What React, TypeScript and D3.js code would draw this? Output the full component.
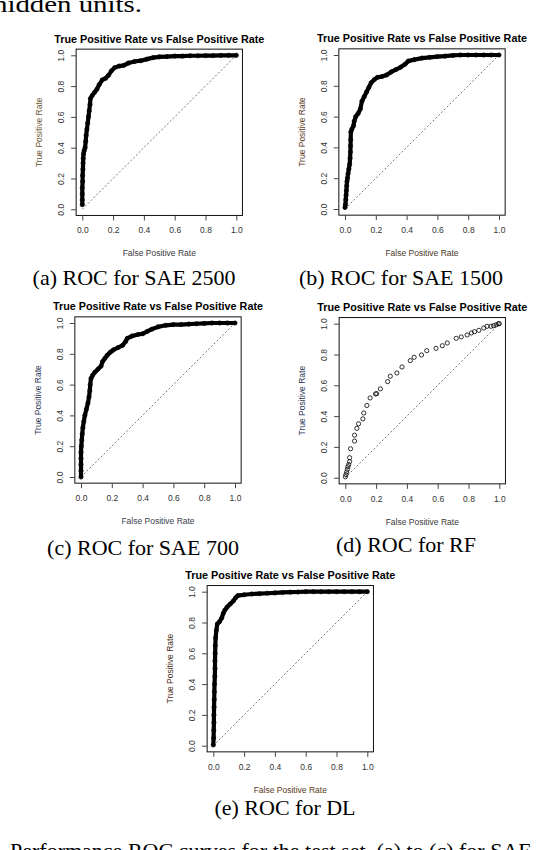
import * as d3 from "d3";
import React, { useEffect, useRef } from "react";

type Pt = [number, number];

// ROC points: [false positive rate, true positive rate]
const sae2500: Pt[] = [
  [0, 0.03], [0, 0.06], [0, 0.1], [0, 0.14], [0.002, 0.18], [0.002, 0.22],
  [0.004, 0.26], [0.005, 0.3], [0.006, 0.33], [0.008, 0.36], [0.012, 0.38],
  [0.018, 0.4], [0.022, 0.44], [0.025, 0.48], [0.03, 0.52], [0.035, 0.56],
  [0.04, 0.6], [0.045, 0.64], [0.05, 0.68], [0.053, 0.72], [0.065, 0.74],
  [0.08, 0.76], [0.095, 0.78], [0.11, 0.81], [0.13, 0.84], [0.15, 0.85],
  [0.17, 0.87], [0.19, 0.9], [0.21, 0.92], [0.24, 0.93], [0.27, 0.935],
  [0.3, 0.95], [0.34, 0.96], [0.38, 0.965], [0.42, 0.975], [0.46, 0.985],
  [0.5, 0.99], [0.55, 0.992], [0.6, 0.995], [0.65, 0.995], [0.7, 0.997],
  [0.75, 0.997], [0.8, 0.998], [0.85, 0.998], [0.9, 0.999], [0.95, 1], [1, 1],
];

const sae1500: Pt[] = [
  [0, 0.01], [0.003, 0.03], [0.005, 0.06], [0.007, 0.09], [0.009, 0.12],
  [0.011, 0.15], [0.013, 0.18], [0.016, 0.2], [0.02, 0.23], [0.025, 0.26],
  [0.03, 0.29], [0.033, 0.33], [0.035, 0.37], [0.036, 0.41], [0.037, 0.45],
  [0.038, 0.5], [0.045, 0.52], [0.055, 0.54], [0.06, 0.57], [0.07, 0.6],
  [0.085, 0.62], [0.1, 0.65], [0.11, 0.7], [0.125, 0.73], [0.14, 0.76],
  [0.155, 0.79], [0.17, 0.82], [0.19, 0.84], [0.21, 0.855], [0.24, 0.86],
  [0.27, 0.87], [0.3, 0.89], [0.33, 0.905], [0.36, 0.92], [0.39, 0.94],
  [0.41, 0.96], [0.45, 0.97], [0.5, 0.98], [0.55, 0.985], [0.6, 0.99],
  [0.65, 0.993], [0.7, 0.997], [0.75, 1], [0.8, 1], [0.85, 1], [0.9, 1],
  [0.95, 1], [1, 1],
];

const sae700: Pt[] = [
  [0, 0], [0, 0.04], [0, 0.08], [0, 0.12], [0, 0.16], [0.002, 0.2],
  [0.005, 0.24], [0.008, 0.28], [0.012, 0.32], [0.018, 0.36], [0.025, 0.4],
  [0.035, 0.44], [0.045, 0.48], [0.052, 0.52], [0.057, 0.56], [0.06, 0.6],
  [0.065, 0.64], [0.075, 0.66], [0.09, 0.68], [0.11, 0.7], [0.13, 0.72],
  [0.14, 0.75], [0.155, 0.77], [0.17, 0.79], [0.19, 0.81], [0.21, 0.825],
  [0.24, 0.84], [0.27, 0.855], [0.29, 0.88], [0.3, 0.9], [0.33, 0.915],
  [0.37, 0.925], [0.4, 0.93], [0.43, 0.945], [0.46, 0.96], [0.5, 0.975],
  [0.55, 0.985], [0.6, 0.99], [0.65, 0.99], [0.7, 0.993], [0.75, 0.995],
  [0.8, 0.997], [0.85, 1], [0.9, 1], [0.95, 1], [1, 1],
];

const rf: Pt[] = [
  [0, 0.006], [0.004, 0.02], [0.009, 0.037], [0.013, 0.054], [0.017, 0.071],
  [0.022, 0.086], [0.028, 0.104], [0.028, 0.13], [0.034, 0.188], [0.06, 0.238],
  [0.06, 0.276], [0.075, 0.32], [0.086, 0.35], [0.114, 0.382], [0.12, 0.42],
  [0.14, 0.469], [0.161, 0.518], [0.196, 0.544], [0.204, 0.546], [0.228, 0.577],
  [0.275, 0.624], [0.292, 0.659], [0.335, 0.68], [0.368, 0.719], [0.422, 0.76],
  [0.447, 0.782], [0.495, 0.797], [0.529, 0.825], [0.589, 0.84], [0.63, 0.857],
  [0.662, 0.875], [0.72, 0.905], [0.753, 0.914], [0.791, 0.927], [0.819, 0.94],
  [0.839, 0.948], [0.867, 0.957], [0.899, 0.972], [0.92, 0.983], [0.946, 0.983],
  [0.963, 0.987], [0.98, 0.993], [0.994, 1], [1, 1],
];

const dl: Pt[] = [
  [0, 0.005], [0.002, 0.05], [0.003, 0.1], [0.004, 0.15], [0.004, 0.2],
  [0.005, 0.25], [0.006, 0.3], [0.007, 0.35], [0.008, 0.4], [0.01, 0.45],
  [0.011, 0.5], [0.011, 0.55], [0.012, 0.6], [0.013, 0.65], [0.015, 0.7],
  [0.02, 0.75], [0.026, 0.79], [0.04, 0.805], [0.055, 0.83], [0.065, 0.86],
  [0.075, 0.88], [0.09, 0.9], [0.11, 0.92], [0.13, 0.94], [0.145, 0.96],
  [0.16, 0.975], [0.2, 0.98], [0.25, 0.985], [0.3, 0.987], [0.35, 0.99],
  [0.4, 0.992], [0.45, 0.995], [0.5, 0.997], [0.55, 0.998], [0.6, 1],
  [0.65, 1], [0.7, 1], [0.75, 1], [0.8, 1], [0.85, 1], [0.9, 1], [0.95, 1], [1, 1],
];

const tickValues = [0, 0.2, 0.4, 0.6, 0.8, 1.0];
const plotTitle = "True Positive Rate vs False Positive Rate";
const xLabel = "False Positive Rate";
const yLabel = "True Positive Rate";
const textAbove = "hidden units.";
const textBelow = "Performance ROC curves for the test set. (a) to (c) for SAE";

interface Panel {
  data: Pt[];
  caption: string;
  x0: number;
  y0: number;
  capX: number;
  capY: number;
  dense: boolean;
  yCol: string;
  xCol: string;
}

const panels: Panel[] = [
  { data: sae2500, caption: "(a) ROC for SAE 2500", x0: 82.3, y0: 209.3, capX: 134, capY: 285, dense: true, yCol: "#6b5a34", xCol: "#3a3a3a" },
  { data: sae1500, caption: "(b) ROC for SAE 1500", x0: 345, y0: 209, capX: 401, capY: 285, dense: true, yCol: "#5a3c22", xCol: "#4a3826" },
  { data: sae700, caption: "(c) ROC for SAE 700", x0: 81, y0: 477, capX: 143, capY: 555, dense: true, yCol: "#2e3a58", xCol: "#3a4050" },
  { data: rf, caption: "(d) ROC for RF", x0: 345.3, y0: 477.7, capX: 406, capY: 552, dense: false, yCol: "#2e3a58", xCol: "#3a3a3a" },
  { data: dl, caption: "(e) ROC for DL", x0: 213.3, y0: 745.7, capX: 285, capY: 815, dense: true, yCol: "#4a3020", xCol: "#5a3c22" },
];

const W = 548;
const H = 850;
const SIZE = 154;
const PAD = SIZE * 0.04;
const SANS = "'Liberation Sans', Arial, sans-serif";
const SERIF = "'Liberation Serif', 'Times New Roman', serif";

export default function App() {
  const ref = useRef<SVGSVGElement | null>(null);

  useEffect(() => {
    const svg = d3.select(ref.current);
    svg.selectAll("*").remove();

    svg.append("rect").attr("width", W).attr("height", H).attr("fill", "#fff");

    // running text of the page, cut by the crop at top and bottom
    svg.append("text")
      .attr("x", -7).attr("y", 12)
      .attr("textLength", 149).attr("lengthAdjust", "spacingAndGlyphs")
      .attr("font-family", SERIF).attr("font-size", 23)
      .text(textAbove);

    svg.append("text")
      .attr("x", 10).attr("y", 858)
      .attr("font-family", SERIF).attr("font-size", 22)
      .text(textBelow);

    panels.forEach((p) => {
      const x = d3.scaleLinear().domain([0, 1]).range([p.x0, p.x0 + SIZE]);
      const y = d3.scaleLinear().domain([0, 1]).range([p.y0, p.y0 - SIZE]);
      const left = p.x0 - PAD;
      const right = p.x0 + SIZE + PAD;
      const top = p.y0 - SIZE - PAD;
      const bottom = p.y0 + PAD;
      const g = svg.append("g");

      // diagonal reference
      g.append("line")
        .attr("x1", x(0)).attr("y1", y(0))
        .attr("x2", x(1)).attr("y2", y(1))
        .attr("stroke", "#555").attr("stroke-width", 0.8)
        .attr("stroke-dasharray", "2,2");

      if (p.dense) {
        const line = d3.line<Pt>().x((d) => x(d[0])).y((d) => y(d[1]));
        g.append("path")
          .datum(p.data)
          .attr("d", line)
          .attr("fill", "none")
          .attr("stroke", "#000")
          .attr("stroke-width", 4.2)
          .attr("stroke-linejoin", "round")
          .attr("stroke-linecap", "round");
      }

      g.selectAll("circle")
        .data(p.data)
        .enter()
        .append("circle")
        .attr("cx", (d) => x(d[0]))
        .attr("cy", (d) => y(d[1]))
        .attr("r", 2.1)
        .attr("fill", "none")
        .attr("stroke", "#000")
        .attr("stroke-width", 0.8);

      g.append("rect")
        .attr("x", left).attr("y", top)
        .attr("width", right - left).attr("height", bottom - top)
        .attr("fill", "none").attr("stroke", "#111").attr("stroke-width", 1);

      const fmt = d3.format(".1f");
      const xa = g.append("g")
        .attr("transform", `translate(0,${bottom})`)
        .call(d3.axisBottom(x).tickValues(tickValues).tickFormat(fmt).tickSize(5).tickSizeOuter(0).tickPadding(7));
      const ya = g.append("g")
        .attr("transform", `translate(${left},0)`)
        .call(d3.axisLeft(y).tickValues(tickValues).tickFormat(fmt).tickSize(5).tickSizeOuter(0));

      ya.selectAll("text")
        .attr("x", 0).attr("dy", null)
        .attr("text-anchor", "middle")
        .attr("transform", "translate(-12,0) rotate(-90)");

      [xa, ya].forEach((a) => {
        a.attr("font-family", SANS).attr("font-size", 8.5);
        a.select(".domain").remove();
        a.selectAll("line").attr("stroke", "#444");
        a.selectAll("text").attr("fill", "#333");
      });

      const cx = (left + right) / 2;
      const cy = (top + bottom) / 2;

      g.append("text")
        .attr("x", cx).attr("y", top - 6.5)
        .attr("text-anchor", "middle")
        .attr("font-family", SANS).attr("font-size", 10.8).attr("font-weight", "bold")
        .attr("fill", "#000")
        .text(plotTitle);

      g.append("text")
        .attr("x", cx).attr("y", bottom + 41)
        .attr("text-anchor", "middle")
        .attr("font-family", SANS).attr("font-size", 8.5)
        .attr("fill", p.xCol)
        .text(xLabel);

      g.append("text")
        .attr("transform", `translate(${left - 34},${cy}) rotate(-90)`)
        .attr("text-anchor", "middle")
        .attr("font-family", SANS).attr("font-size", 8.5)
        .attr("fill", p.yCol)
        .text(yLabel);

      svg.append("text")
        .attr("x", p.capX).attr("y", p.capY)
        .attr("text-anchor", "middle")
        .attr("font-family", SERIF).attr("font-size", 22)
        .attr("fill", "#000")
        .text(p.caption);
    });
  }, []);

  return (
    <div style={{ position: "absolute", left: 0, top: 0 }}>
      <svg ref={ref} width={W} height={H} style={{ display: "block" }} />
    </div>
  );
}
